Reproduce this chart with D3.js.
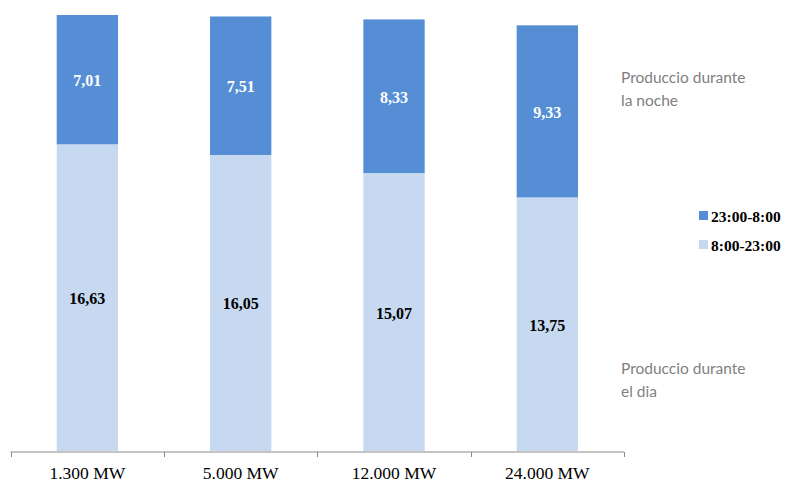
<!DOCTYPE html>
<html><head><meta charset="utf-8">
<script src="https://cdn.jsdelivr.net/npm/d3@7"></script>
<style>body{margin:0;background:#fff}</style>
</head><body>
<svg id="c" width="785" height="482"></svg>
<script>
const categories = ["1.300 MW", "5.000 MW", "12.000 MW", "24.000 MW"];
const dayValues = [16.63, 16.05, 15.07, 13.75];
const nightValues = [7.01, 7.51, 8.33, 9.33];
const seriesNames = ["23:00-8:00", "8:00-23:00"];
const notes = [["Producciο durante", "la noche"], ["Producciο durante", "el dia"]];

const svg = d3.select("#c");
const dark = "#558ED5", light = "#C6D9F1";
const x = d3.scaleBand().domain(categories).range([10.7, 624]).paddingInner(0.6).paddingOuter(0.3);
const maxTotal = d3.max(dayValues.map((d, i) => d + nightValues[i]));
const y = d3.scaleLinear().domain([0, maxTotal]).range([451, 15]);

const data = categories.map((c, i) => ({c, day: dayValues[i], night: nightValues[i]}));
const g = svg.append("g");
g.selectAll("rect.day").data(data).join("rect")
  .attr("x", d => x(d.c)).attr("width", x.bandwidth())
  .attr("y", d => y(d.day)).attr("height", d => y(0) - y(d.day)).attr("fill", light);
g.selectAll("rect.night").data(data).join("rect")
  .attr("x", d => x(d.c)).attr("width", x.bandwidth())
  .attr("y", d => y(d.day + d.night)).attr("height", d => y(d.day) - y(d.day + d.night)).attr("fill", dark);

const fmt = v => v.toFixed(2).replace(".", ",");
const lbl = {"font-family": "Liberation Serif, serif", "font-weight": "bold", "font-size": "16px", "text-anchor": "middle"};
function applyAttrs(sel, o){ for (const k in o) sel.attr(k, o[k]); return sel; }
applyAttrs(g.selectAll("text.n").data(data).join("text")
  .attr("x", d => x(d.c) + x.bandwidth()/2)
  .attr("y", d => (y(d.day) + y(d.day + d.night))/2 + 6.5)
  .attr("fill", "#fff").text(d => fmt(d.night)), lbl);
applyAttrs(g.selectAll("text.d").data(data).join("text")
  .attr("x", d => x(d.c) + x.bandwidth()/2)
  .attr("y", d => (y(0) + y(d.day))/2 + 6.5)
  .attr("fill", "#000").text(d => fmt(d.day)), lbl);

// axis
const axisY = 452;
svg.append("line").attr("x1", 10.5).attr("x2", 624).attr("y1", axisY).attr("y2", axisY).attr("stroke", "#888").attr("stroke-width", 1);
const tickXs = d3.range(categories.length + 1).map(i => 10.7 + i * (624 - 10.7) / categories.length);
svg.selectAll("line.t").data(tickXs).join("line")
  .attr("x1", d => Math.round(d)+0.5).attr("x2", d => Math.round(d)+0.5)
  .attr("y1", axisY).attr("y2", axisY + 5).attr("stroke", "#888");
svg.selectAll("text.xl").data(categories).join("text")
  .attr("x", d => x(d) + x.bandwidth()/2).attr("y", 479)
  .attr("text-anchor", "middle").attr("font-family", "Liberation Serif, serif")
  .attr("font-size", "17.5px").attr("fill", "#000").text(d => d);

// legend
const colors = [dark, light];
seriesNames.forEach((s, i) => {
  const ly = 216 + i * 29;
  svg.append("rect").attr("x", 699).attr("y", ly - 5).attr("width", 9).attr("height", 9).attr("fill", colors[i]);
  svg.append("text").attr("x", 711).attr("y", ly + 5.5).attr("font-family", "Liberation Serif, serif")
    .attr("font-weight", "bold").attr("font-size", "15.5px").attr("fill", "#000").text(s);
});

// notes
const noteY = [83, 374];
notes.forEach((lines, i) => {
  lines.forEach((t, j) => {
    svg.append("text").attr("x", 621).attr("y", noteY[i] + j * 23)
      .attr("font-family", "Lato, sans-serif").attr("font-size", "15.5px").attr("fill", "#7f7f7f").text(t);
  });
});
</script>
</body></html>
